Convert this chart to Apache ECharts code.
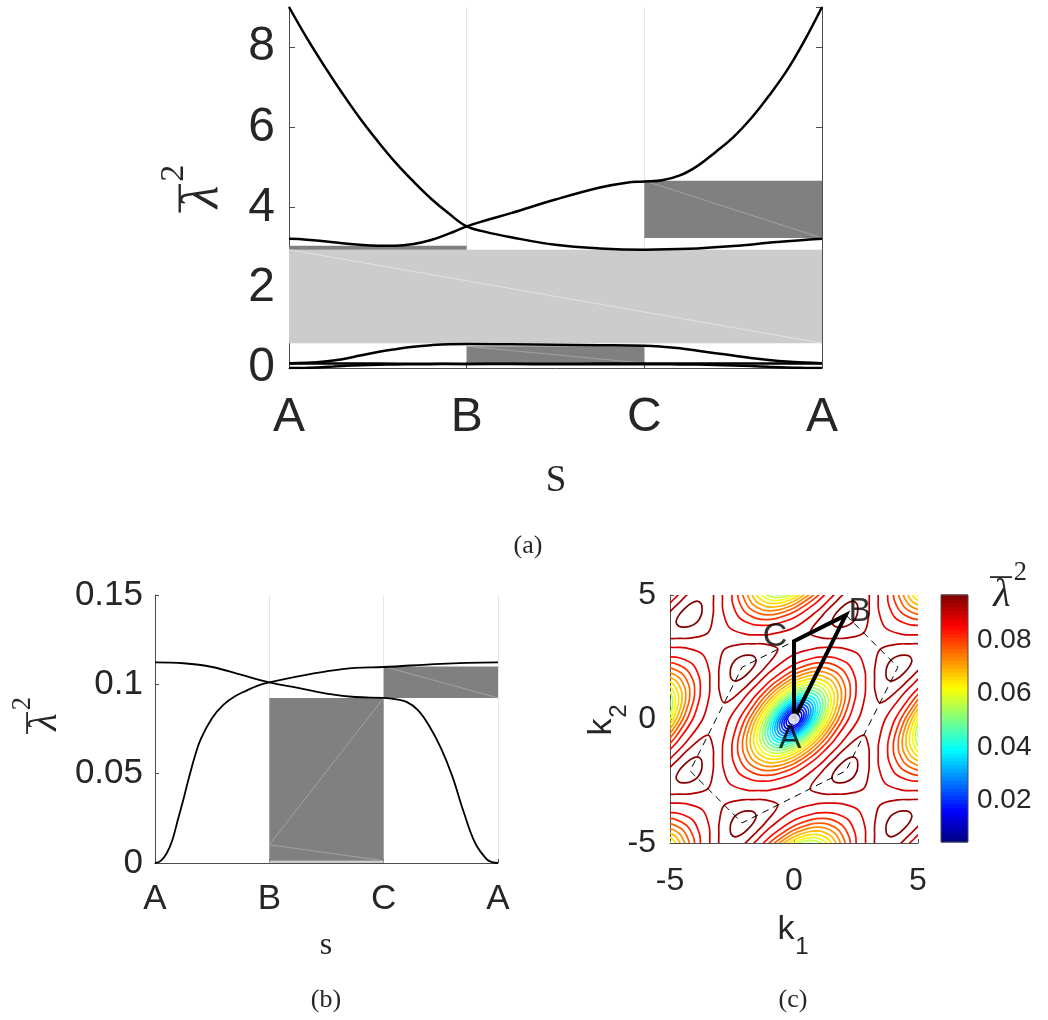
<!DOCTYPE html>
<html>
<head>
<meta charset="utf-8">
<script src="https://cdn.jsdelivr.net/npm/echarts@6.0.0/dist/echarts.min.js"></script>
<style>
html,body{margin:0;padding:0;background:#ffffff;}
#chart{width:1048px;height:1020px;}
</style>
</head>
<body>
<div id="chart"></div>
<script>
// ================= DATA =================
const pathLabels = ['A', 'B', 'C', 'A'];

// panel (a) bands: [s, lambda^2]
const bandA4 = [[0,9.0],[0.1,8.23],[0.2,7.52],[0.3,6.85],[0.4,6.22],[0.5,5.65],[0.6,5.12],[0.7,4.65],[0.8,4.22],[0.9,3.85],[1.0,3.53],[1.1,3.40],[1.25,3.26],[1.5,3.07],[1.75,2.98],[2.0,2.95],[2.25,2.97],[2.5,3.04],[2.75,3.14],[3.0,3.22]];
const bandA3 = [[0,3.22],[0.1,3.2],[0.2,3.16],[0.3,3.11],[0.4,3.07],[0.5,3.05],[0.6,3.05],[0.7,3.09],[0.8,3.19],[0.9,3.35],[1.0,3.53],[1.1,3.67],[1.25,3.86],[1.5,4.2],[1.75,4.5],[1.9,4.62],[2.0,4.65],[2.1,4.68],[2.2,4.8],[2.3,5.04],[2.4,5.38],[2.5,5.75],[2.6,6.22],[2.7,6.78],[2.8,7.4],[2.9,8.15],[3.0,9.0]];
const bandA2 = [[0,0.12],[0.1,0.13],[0.2,0.16],[0.3,0.22],[0.4,0.31],[0.5,0.40],[0.6,0.47],[0.7,0.53],[0.8,0.57],[0.9,0.595],[1.0,0.60],[1.25,0.59],[1.5,0.58],[1.75,0.57],[2.0,0.555],[2.1,0.53],[2.2,0.49],[2.3,0.43],[2.4,0.37],[2.5,0.31],[2.6,0.25],[2.7,0.20],[2.8,0.16],[2.9,0.135],[3.0,0.12]];
const bandP = [[0,0.1123],[0.25,0.1118],[0.5,0.1097],[0.75,0.1054],[1.0,0.1011],[1.25,0.098],[1.5,0.0948],[1.75,0.0929],[2.0,0.0924],[2.1,0.0917],[2.2,0.0902],[2.3,0.0856],[2.4,0.0765],[2.5,0.0644],[2.6,0.0486],[2.7,0.0285],[2.8,0.0112],[2.9,0.0022],[2.95,0.0005],[3.0,0]];
const bandQ = [[0,0],[0.05,0.0012],[0.1,0.0052],[0.15,0.0125],[0.2,0.0242],[0.25,0.036],[0.3,0.0485],[0.35,0.06],[0.4,0.0694],[0.5,0.0812],[0.6,0.0886],[0.7,0.0933],[0.8,0.0965],[0.9,0.0993],[1.0,0.1011],[1.25,0.1045],[1.5,0.1073],[1.75,0.1092],[2.0,0.1097],[2.5,0.1115],[3.0,0.1123]];

// band gaps: [sFrom, sTo, low, high, kind]
const gapsA = [[0,3,0.62,2.95,'complete'],[0,1,2.95,3.05,'partial'],[2,3,3.24,4.67,'partial'],[1,2,0.12,0.54,'partial']];
const gapsB = [[1,2,0,0.0013,'complete'],[1,2,0.0013,0.0924,'partial'],[2,3,0.0924,0.110,'partial']];
// faint patch seams: [s0, y0, s1, y1, kind]
const seamsA = [[0,2.95,3,0.62,'complete'],[2,4.67,3,3.24,'partial'],[1,0.54,2,0.12,'partial']];
const seamsB = [[1,0.0102,2,0.0924,'partial'],[1,0.0102,2,0.0013,'partial'],[2,0.110,3,0.0924,'partial']];

// panel (c): iso-frequency contours
const colorRange = [0.0044, 0.097];
const colorbarTicks = [0.02, 0.04, 0.06, 0.08];
const latticeCenters = [[0,0],[6.28,0],[-6.28,0],[0,6.28],[0,-6.28],[6.28,6.28],[-6.28,-6.28],[6.28,-6.28],[-6.28,6.28]];
const ringLevels = [0.005,0.009,0.013,0.017,0.021,0.025,0.029,0.033,0.037,0.041,0.045,0.049,0.053,0.057,0.061,0.065,0.069,0.073,0.077,0.081,0.085,0.089];
const ringM  = [0.09,0.18,0.27,0.35,0.43,0.51,0.59,0.67,0.75,0.83,0.92,1.01,1.10,1.20,1.30,1.41,1.53,1.66,1.80,1.97,2.20,2.60];
const ringT1 = [null,null,null,null,null,null,null,null,null,null,null,null,null,null,null,null,null,null,null,null,0.823,0.955];
const ringT2 = [null,null,null,null,null,null,null,null,null,null,null,null,null,null,null,null,null,null,null,null,1.252,1.442];
const kPoints = [[-2.09,2.09],[4.19,2.09],[-2.09,-4.19],[4.19,-4.19]];
const kPrimePoints = [[2.09,4.19],[2.09,-2.09],[-4.19,-2.09],[-4.19,4.19]];
const kLoopLevels = [0.093, 0.097];
const kLoopCorner = [0.72, 0.282];
const kLoopFlat = [0.47, 0.241];
const kLoopSide = [0.928, 0.45];
const bzHexagon = [[2.09,4.19],[4.19,2.09],[2.09,-2.09],[-2.09,-4.19],[-4.19,-2.09],[-2.09,2.09],[2.09,4.19]];
const kPath = [[0,0],[2.09,4.19],[0,3.14],[0,0]];
const kPathPoints = [['A',0,0],['B',2.09,4.19],['C',0,3.14]];

// ================= STYLE =================
const TXT = '#262626';
const AX = '#4d4d4d';
const SANS = '"Liberation Sans", Arial, Helvetica, sans-serif';
const SERIF = '"Liberation Serif", "Times New Roman", serif';
const gapFill = {complete: '#cccccc', partial: '#808080'};
const seamColor = {complete: '#e6e6e6', partial: '#a9a9a9'};
const pathLabelOffset = {A: [-4, 20], B: [14, -3], C: [-19, -5]};

function jet(t) {
  t = Math.max(0, Math.min(1, t));
  const f = x => Math.round(255 * Math.max(0, Math.min(1, 1.5 - Math.abs(4 * t - x))));
  return 'rgb(' + f(3) + ',' + f(2) + ',' + f(1) + ')';
}
function levelColor(L) { return jet((L - colorRange[0]) / (colorRange[1] - colorRange[0])); }

function ringOutline(m, t1, t2) {
  if (t1 == null) { t1 = m / Math.sqrt(7); t2 = m / Math.sqrt(3); }
  const half = [[m,0],[3*t1,t1],[2*t2,t2],[3*t1,2*t1],[m,m],[2*t1,3*t1],[t2,2*t2],[t1,3*t1],[0,m],[-t1,2*t1],[-t2,t2],[-2*t1,t1]];
  return half.concat(half.map(p => [-p[0], -p[1]]));
}
function loopOutline(c, f, s) {
  const dirs = [[1,0,s],[2,1,c],[1,1,s],[1,2,f],[0,1,s],[-1,1,c],[-1,0,s],[-2,-1,f],[-1,-1,s],[-1,-2,c],[0,-1,s],[1,-1,f]];
  return dirs.map(d => [d[0]*d[2], d[1]*d[2]]);
}

const kindIndex = {complete: 0, partial: 1};
const kindName = ['complete', 'partial'];
function gapData(list) { return list.map(g => [g[0], g[1], g[2], g[3], kindIndex[g[4]]]); }

function gapRender(params, api) {
  const p0 = api.coord([api.value(0), api.value(3)]);
  const p1 = api.coord([api.value(1), api.value(2)]);
  return {type: 'rect', shape: {x: p0[0], y: p0[1], width: p1[0] - p0[0], height: p1[1] - p0[1]},
          style: {fill: gapFill[kindName[api.value(4)]]}};
}
function seamRender(params, api) {
  const p0 = api.coord([api.value(0), api.value(1)]);
  const p1 = api.coord([api.value(2), api.value(3)]);
  return {type: 'line', shape: {x1: p0[0], y1: p0[1], x2: p1[0], y2: p1[1]},
          style: {stroke: seamColor[kindName[api.value(4)]], lineWidth: 0.8}};
}

const contourItems = [];
latticeCenters.forEach((c, ci) => ringLevels.forEach((L, ri) => contourItems.push([ci, ri, 0])));
kPoints.forEach((c, ki) => kLoopLevels.forEach((L, li) => contourItems.push([ki, li, 1])));
kPrimePoints.forEach((c, ki) => kLoopLevels.forEach((L, li) => contourItems.push([ki, li, 2])));

function contourRender(params, api) {
  const a = api.value(0), r = api.value(1), kind = api.value(2);
  let pts, level;
  if (kind === 0) {
    const c = latticeCenters[a];
    pts = ringOutline(ringM[r], ringT1[r], ringT2[r]).map(p => [c[0] + p[0], c[1] + p[1]]);
    level = ringLevels[r];
  } else {
    const c = (kind === 1 ? kPoints : kPrimePoints)[a];
    const sg = kind === 1 ? 1 : -1;
    pts = loopOutline(kLoopCorner[r], kLoopFlat[r], kLoopSide[r]).map(p => [c[0] + sg * p[0], c[1] + sg * p[1]]);
    level = kLoopLevels[r];
  }
  const cs = params.coordSys;
  return {type: 'polygon', shape: {points: pts.map(p => api.coord(p)), smooth: 0.35},
          style: {fill: 'none', stroke: levelColor(level), lineWidth: 1.7},
          clipPath: {type: 'rect', shape: {x: cs.x, y: cs.y, width: cs.width, height: cs.height}}};
}

const colorbarBins = [];
for (let i = 0; i < 64; i++) colorbarBins.push([i, 0]);
colorbarBins.push([64, 1]);
function colorbarRender(params, api) {
  const i = api.value(0);
  const lo = colorRange[0], hi = colorRange[1];
  if (api.value(1) === 1) {
    const a = api.coord([0, hi]), b = api.coord([1, lo]);
    return {type: 'rect', shape: {x: a[0], y: a[1], width: b[0] - a[0], height: b[1] - a[1]},
            style: {fill: 'none', stroke: AX, lineWidth: 1}};
  }
  const v0 = lo + (hi - lo) * i / 64, v1 = lo + (hi - lo) * (i + 1) / 64;
  const a = api.coord([0, v1]), b = api.coord([1, v0]);
  return {type: 'rect', shape: {x: a[0], y: a[1] - 0.5, width: b[0] - a[0], height: b[1] - a[1] + 1},
          style: {fill: jet((i + 0.5) / 64)}};
}

function lambdaLabel(cx, cy, size, rot) {
  return {type: 'group', x: cx, y: cy, rotation: rot, children: [
    {type: 'text', x: 0, y: 0, style: {text: 'λ', fontSize: size, fontStyle: 'italic', fontFamily: SERIF, fill: TXT,
      textAlign: 'center', textVerticalAlign: 'middle', align: 'center', verticalAlign: 'middle'}},
    {type: 'rect', shape: {x: -0.3 * size, y: -0.47 * size, width: 0.55 * size, height: Math.max(1.5, 0.045 * size)}, style: {fill: TXT}},
    {type: 'text', x: 0.46 * size, y: -0.55 * size, style: {text: '2', fontSize: 0.66 * size, fontFamily: SERIF, fill: TXT,
      textAlign: 'center', textVerticalAlign: 'middle', align: 'center', verticalAlign: 'middle'}}
  ]};
}
function plainText(x, y, text, size, family) {
  return {type: 'text', x: x, y: y, style: {text: text, fontSize: size, fontFamily: family, fill: TXT,
    textAlign: 'center', textVerticalAlign: 'middle', align: 'center', verticalAlign: 'middle'}};
}

function bandLine(data, xi, yi, width) {
  return {type: 'line', xAxisIndex: xi, yAxisIndex: yi, data: data, showSymbol: false, symbol: 'none',
          smooth: 0.4, lineStyle: {color: '#000', width: width}, z: 3, silent: true};
}

function pathAxis(gi, fs, margin, tickLen) {
  return {gridIndex: gi, type: 'value', min: 0, max: 3, interval: 1,
    axisLine: {show: true, onZero: false, lineStyle: {color: AX, width: 1}},
    axisTick: {show: true, inside: true, length: tickLen, lineStyle: {color: AX}},
    axisLabel: {show: true, formatter: v => pathLabels[Math.round(v)], fontSize: fs, fontFamily: SANS, color: TXT, margin: margin, showMinLabel: true, showMaxLabel: true},
    splitLine: {show: true, lineStyle: {color: '#e6e6e6', width: 1}}};
}

const option = {
  animation: false,
  backgroundColor: '#ffffff',
  grid: [
    {left: 289, top: 7, width: 533, height: 361, outerBoundsMode: 'none'},
    {left: 155, top: 595, width: 343, height: 268, outerBoundsMode: 'none'},
    {left: 670, top: 595, width: 248, height: 248, outerBoundsMode: 'none'},
    {left: 941, top: 595, width: 27, height: 247, outerBoundsMode: 'none'}
  ],
  xAxis: [
    pathAxis(0, 48, 26, 6),
    pathAxis(1, 35, 19, 4),
    {gridIndex: 2, type: 'value', min: -5, max: 5, interval: 5,
      axisLine: {show: true, onZero: false, lineStyle: {color: AX}},
      axisTick: {show: true, inside: true, length: 4, lineStyle: {color: AX}},
      axisLabel: {fontSize: 32, fontFamily: SANS, color: TXT, margin: 22},
      splitLine: {show: false}},
    {gridIndex: 3, type: 'value', min: 0, max: 1, show: false}
  ],
  yAxis: [
    {gridIndex: 0, type: 'value', min: 0, max: 9, interval: 2,
      axisLine: {show: true, onZero: false, lineStyle: {color: AX}},
      axisTick: {show: true, inside: true, length: 6, lineStyle: {color: AX}},
      axisLabel: {fontSize: 48, fontFamily: SANS, color: TXT, margin: 14, showMaxLabel: false},
      splitLine: {show: false}},
    {gridIndex: 0, type: 'value', min: 0, max: 9, interval: 2, position: 'right',
      axisLine: {show: true, onZero: false, lineStyle: {color: AX}},
      axisTick: {show: true, inside: true, length: 6, lineStyle: {color: AX}},
      axisLabel: {show: false}, splitLine: {show: false}},
    {gridIndex: 1, type: 'value', min: 0, max: 0.15, interval: 0.05,
      axisLine: {show: true, onZero: false, lineStyle: {color: AX}},
      axisTick: {show: true, inside: true, length: 4, lineStyle: {color: AX}},
      axisLabel: {fontSize: 35, fontFamily: SANS, color: TXT, margin: 12, formatter: v => String(Math.round(v * 100) / 100)},
      splitLine: {show: false}},
    {gridIndex: 2, type: 'value', min: -5, max: 5, interval: 5,
      axisLine: {show: true, onZero: false, lineStyle: {color: AX}},
      axisTick: {show: true, inside: true, length: 4, lineStyle: {color: AX}},
      axisLabel: {fontSize: 32, fontFamily: SANS, color: TXT, margin: 14},
      splitLine: {show: false}},
    {gridIndex: 3, type: 'value', min: colorRange[0], max: colorRange[1], position: 'right',
      axisLine: {show: false, onZero: false},
      axisTick: {show: true, inside: true, length: 4, lineStyle: {color: AX}, customValues: colorbarTicks},
      axisLabel: {show: true, customValues: colorbarTicks, formatter: v => v.toFixed(2), fontSize: 28, fontFamily: SANS, color: TXT, margin: 9},
      splitLine: {show: false}}
  ],
  series: [
    // panel (a)
    {type: 'custom', xAxisIndex: 0, yAxisIndex: 0, data: gapData(gapsA), renderItem: gapRender, z: 1, silent: true},
    {type: 'custom', xAxisIndex: 0, yAxisIndex: 0, data: gapData(seamsA), renderItem: seamRender, z: 1, silent: true},
    bandLine(bandQ, 0, 0, 2.5),
    bandLine(bandP, 0, 0, 2.5),
    bandLine(bandA2, 0, 0, 2.5),
    bandLine(bandA3, 0, 0, 2.5),
    bandLine(bandA4, 0, 0, 2.5),
    // panel (b)
    {type: 'custom', xAxisIndex: 1, yAxisIndex: 2, data: gapData(gapsB), renderItem: gapRender, z: 1, silent: true},
    {type: 'custom', xAxisIndex: 1, yAxisIndex: 2, data: gapData(seamsB), renderItem: seamRender, z: 1, silent: true},
    bandLine(bandP, 1, 2, 1.8),
    bandLine(bandQ, 1, 2, 1.8),
    // panel (c)
    {type: 'custom', xAxisIndex: 2, yAxisIndex: 3, data: contourItems, renderItem: contourRender, z: 2, silent: true, clip: true},
    {type: 'line', xAxisIndex: 2, yAxisIndex: 3, data: bzHexagon, showSymbol: false, symbol: 'none', z: 3, silent: true,
      lineStyle: {color: '#000', width: 1, type: [7, 5]}},
    {type: 'line', xAxisIndex: 2, yAxisIndex: 3, data: kPath, showSymbol: false, symbol: 'none', z: 4, silent: true,
      lineStyle: {color: '#000', width: 4, join: 'miter'}},
    {type: 'scatter', xAxisIndex: 2, yAxisIndex: 3, data: [kPath[0]], symbol: 'circle', symbolSize: 10, z: 5, silent: true,
      itemStyle: {color: '#ffffff', borderColor: '#ffffff'}},
    {type: 'scatter', xAxisIndex: 2, yAxisIndex: 3, symbolSize: 0, z: 6, silent: true,
      data: kPathPoints.map(p => ({name: p[0], value: [p[1], p[2]],
        label: {show: true, formatter: p[0], position: 'inside', offset: pathLabelOffset[p[0]], fontSize: 34, fontFamily: SANS, color: '#000'}}))},
    // colorbar
    {type: 'custom', xAxisIndex: 3, yAxisIndex: 4, data: colorbarBins, renderItem: colorbarRender, z: 2, silent: true}
  ],
  graphic: [
    lambdaLabel(203, 197, 52, Math.PI / 2),
    plainText(556, 481, 'S', 37, SERIF),
    plainText(528, 546, '(a)', 26, SERIF),
    lambdaLabel(45, 722, 40, Math.PI / 2),
    plainText(326, 946, 's', 32, SERIF),
    plainText(326, 1000, '(b)', 26, SERIF),
    plainText(793, 1000, '(c)', 26, SERIF),
    plainText(786, 930, 'k', 34, SANS),
    plainText(802, 947, '1', 24, SANS),
    {type: 'group', x: 602, y: 727, rotation: Math.PI / 2, children: [
      plainText(0, 0, 'k', 34, SANS),
      plainText(16, 17, '2', 24, SANS)
    ]},
    lambdaLabel(1002, 595, 40, 0)
  ]
};

const chart = echarts.init(document.getElementById('chart'), null, {renderer: 'canvas'});
chart.setOption(option);
</script>
</body>
</html>
